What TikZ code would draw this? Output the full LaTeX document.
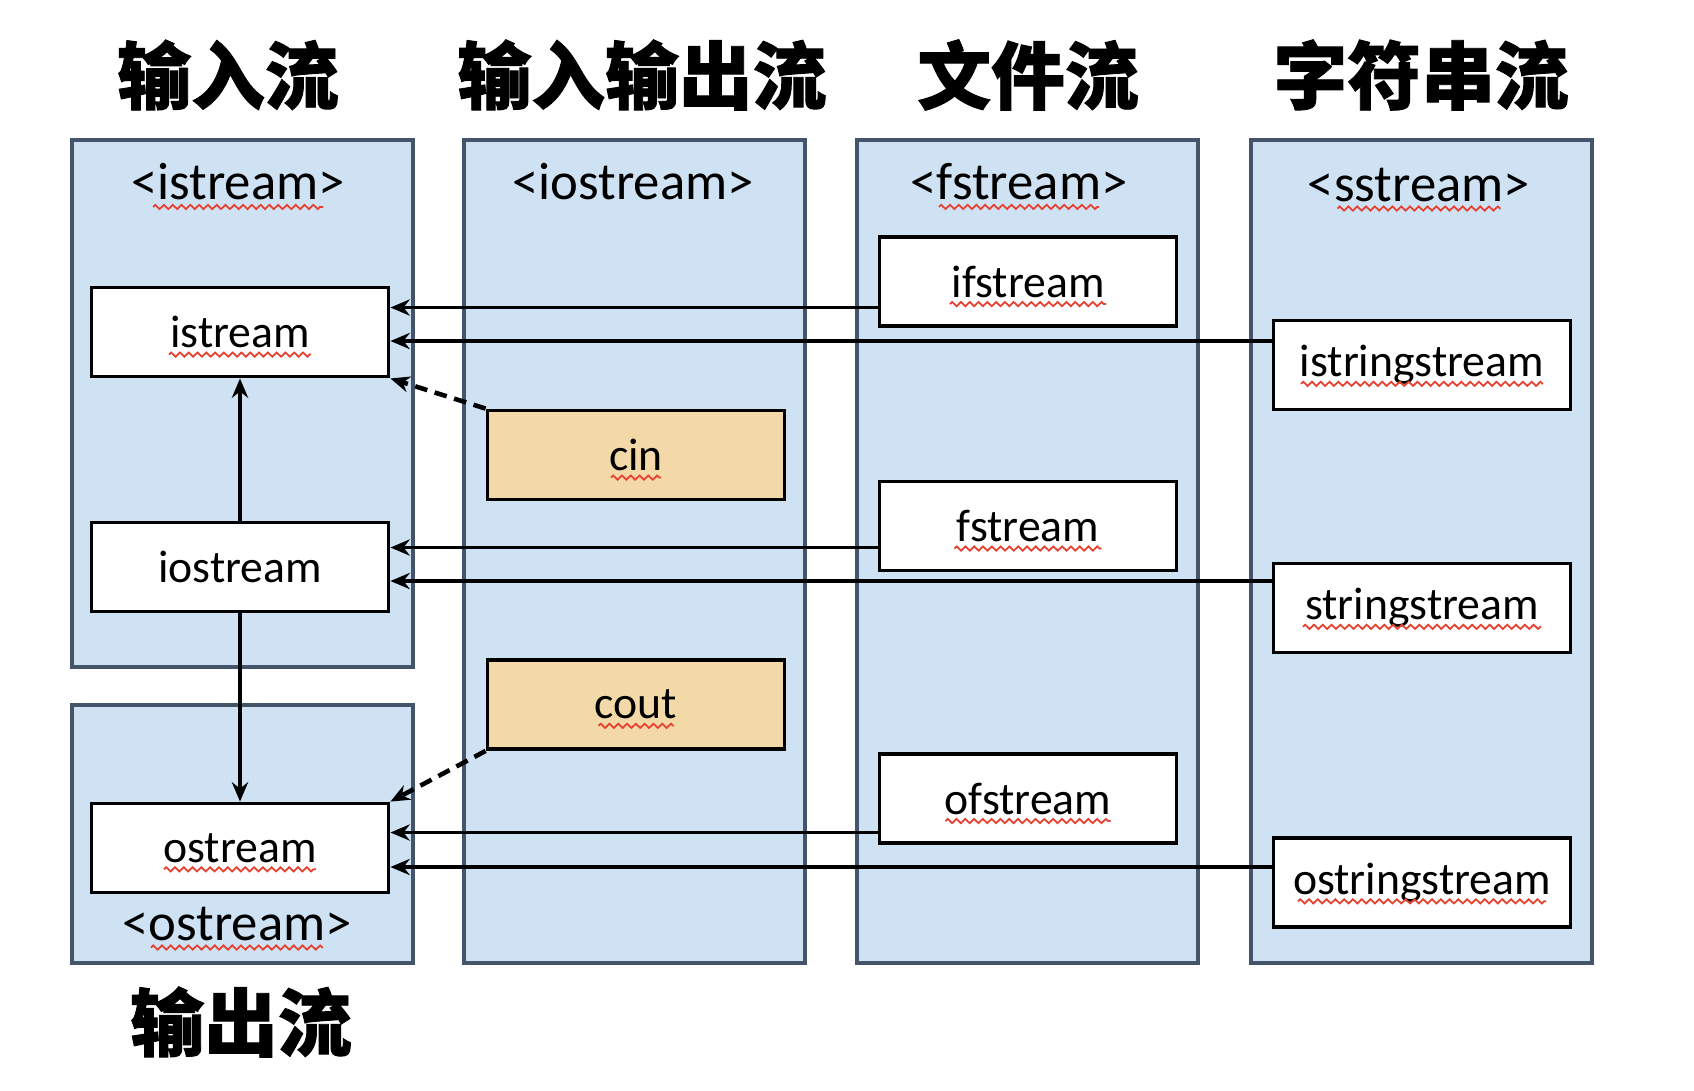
\documentclass[tikz,border=0pt]{standalone}
\usepackage{fontspec}
\setmainfont{Carlito}
\newfontfamily\cjk{Noto Sans CJK SC}[BoldFeatures={FakeBold=1.2}]
\usetikzlibrary{arrows.meta,positioning,decorations.pathmorphing}
\definecolor{panelblue}{HTML}{CFE2F3}
\definecolor{paneledge}{HTML}{44546A}
\definecolor{objtan}{HTML}{F4D9A8}
\definecolor{spellred}{HTML}{E8402F}

\begin{document}
\begin{tikzpicture}[
	cls/.style={draw,line width=1.1pt,fill=white,minimum width=2.97cm,minimum height=0.89cm,font=\fontsize{13}{15}\selectfont},
	obj/.style={cls,fill=objtan},
	hdr/.style={font=\fontsize{15}{18}\selectfont},
	ttl/.style={font=\cjk\bfseries\fontsize{21}{24}\selectfont},
	conn/.style={line width=1.05pt,-{Stealth[length=5.5pt,width=4.6pt]}},
	ref/.style={conn,line width=1.3pt,dash pattern=on 3.6pt off 2.2pt},
	wave/.style={draw=spellred,line width=0.5pt,decorate,decoration={zigzag,segment length=2.5pt,amplitude=0.6pt}}]
	\useasboundingbox (0,0) rectangle (16.94,-10.90);
	
	\foreach \x/\b in {0.72/6.67,4.64/9.63,8.57/9.63,12.51/9.63}
	\draw[line width=1.4pt,draw=paneledge,fill=panelblue] (\x,-1.40) rectangle ({\x+3.41},-\b);
	\draw[line width=1.4pt,draw=paneledge,fill=panelblue] (0.72,-7.05) rectangle (4.13,-9.63);
	
	\node[ttl] (tin) at (2.28,-0.75) {输入流};
	\node[ttl] (tio) at (6.42,-0.75) {输入输出流};
	\node[ttl] (tfile) at (10.28,-0.75) {文件流};
	\node[ttl] (tstr) at (14.21,-0.75) {字符串流};
	\node[ttl] (tout) at (2.41,-10.22) {输出流};
	
	\node[hdr] (hin) at (2.38,-1.82) {<istream>};
	\node[hdr] (hio) at (6.33,-1.82) {<iostream>};
	\node[hdr] (hfile) at (10.19,-1.82) {<fstream>};
	\node[hdr] (hstr) at (14.19,-1.85) {<sstream>};
	\node[hdr] (hout) at (2.37,-9.24) {<ostream>};
	
	\node[cls] (istream) at (2.40,-3.32) {istream};
	\node[cls] (iostream) at (2.40,-5.67) {iostream};
	\node[cls] (ostream) at (2.40,-8.48) {ostream};
	\node[obj] (cin) at (6.36,-4.55) {cin};
	\node[obj] (cout) at (6.36,-7.045) {cout};
	\node[cls] (ifstream) at (10.28,-2.815) {ifstream};
	\node[cls] (fstream) at (10.28,-5.26) {fstream};
	\node[cls] (ofstream) at (10.28,-7.985) {ofstream};
	\node[cls] (istringstream) at (14.22,-3.65) {istringstream};
	\node[cls] (stringstream) at (14.22,-6.08) {stringstream};
	\node[cls] (ostringstream) at (14.22,-8.825) {ostringstream};
	
	% spell-check marks under the words
	\foreach \n/\wlen in {hin/1.70,hfile/1.60,hstr/1.63,hout/1.72,istream/1.42,ostream/1.52,cin/0.50,cout/0.75,ifstream/1.56,fstream/1.47,ofstream/1.65,istringstream/2.42,stringstream/2.38,ostringstream/2.48}
	\draw[wave] ([xshift=-\wlen/2*1cm,yshift=-2pt]\n.base) -- ++(\wlen,0);
	
	\foreach \src/\dst/\y in {ifstream/istream/3.075,istringstream/istream/3.41,fstream/iostream/5.475,stringstream/iostream/5.81,ofstream/ostream/8.325,ostringstream/ostream/8.67}
	\draw[conn] (\src.west |- 0,-\y) -- (\dst.east |- 0,-\y);
	
	\draw[conn] (iostream) -- (istream);
	\draw[conn] (iostream) -- (ostream);
	\draw[ref] (cin.north west) -- (istream.south east);
	\draw[ref] (cout.south west) -- (ostream.north east);
\end{tikzpicture}
\end{document}
